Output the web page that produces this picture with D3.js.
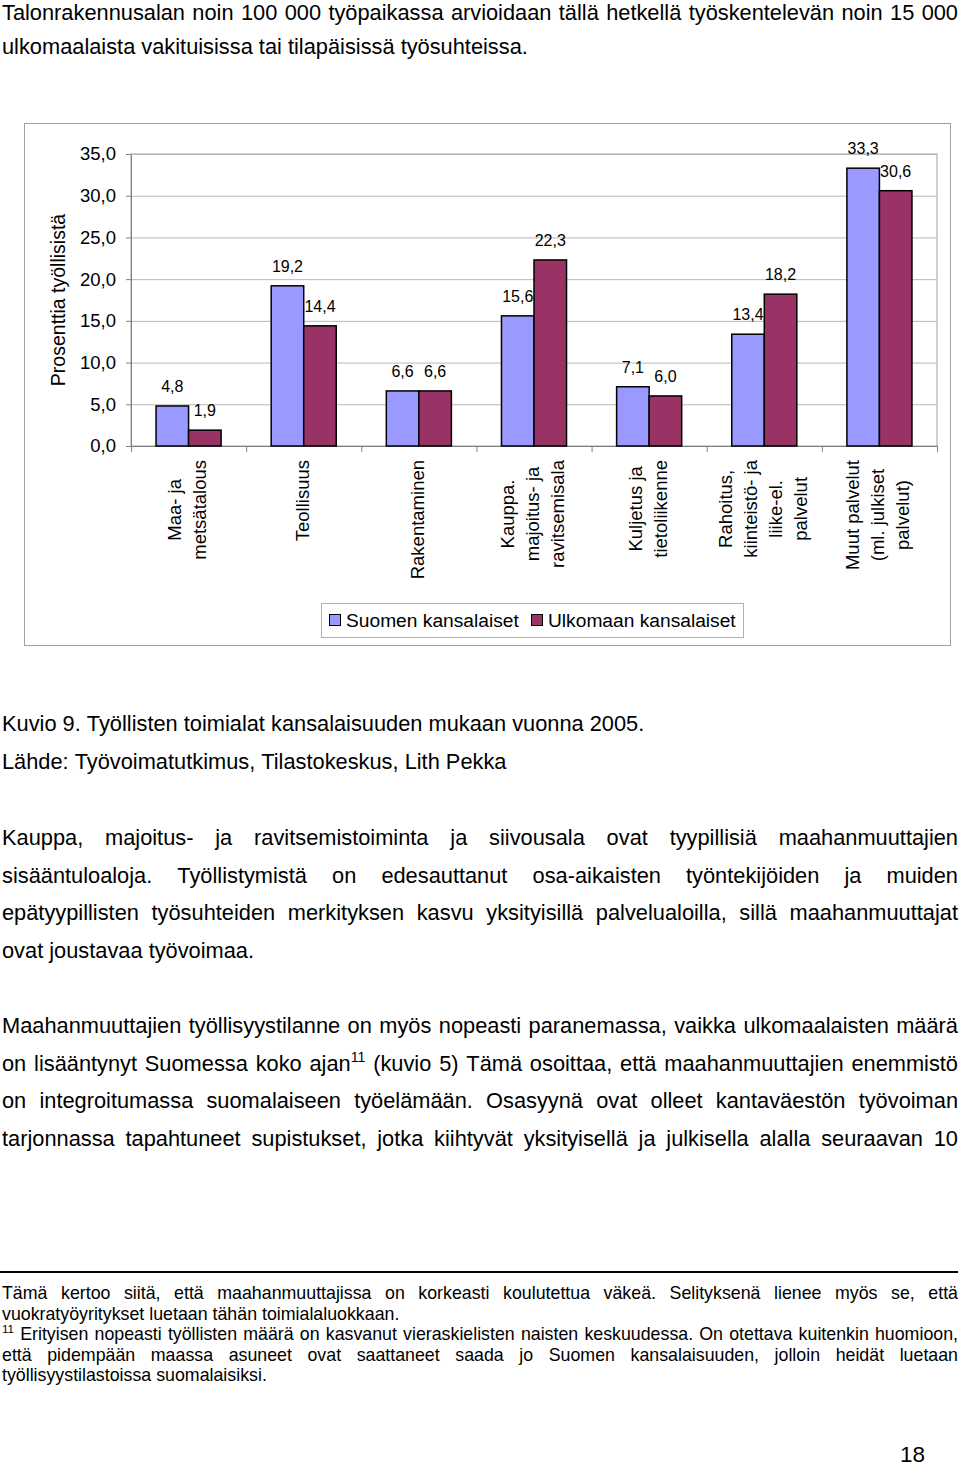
<!DOCTYPE html>
<html>
<head>
<meta charset="utf-8">
<script src="https://cdn.jsdelivr.net/npm/d3@7"></script>
<style>
  body { margin: 0; background: #fff; }
  svg { display: block; font-family: "Liberation Sans", Arial, sans-serif; }
</style>
</head>
<body>
<div id="page"></div>
<script>
const PAGE_W = 960, PAGE_H = 1467;
const PLOT = {left: 131, right: 937, top: 154, bottom: 446};

// chart data
const categories = [
  ["Maa- ja", "metsätalous"],
  ["Teollisuus"],
  ["Rakentaminen"],
  ["Kauppa.", "majoitus- ja", "ravitsemisala"],
  ["Kuljetus ja", "tietoliikenne"],
  ["Rahoitus,", "kiinteistö- ja", "liike-el.", "palvelut"],
  ["Muut palvelut", "(ml. julkiset", "palvelut)"]
];
const suomen = [4.8, 19.2, 6.6, 15.6, 7.1, 13.4, 33.3];
const ulkomaan = [1.9, 14.4, 6.6, 22.3, 6.0, 18.2, 30.6];
const seriesNames = ["Suomen kansalaiset", "Ulkomaan kansalaiset"];
const seriesColors = ["#9999ff", "#993366"];
const yTicks = [0, 5, 10, 15, 20, 25, 30, 35];

// page text
const titleLines = [
  "Talonrakennusalan noin 100 000 työpaikassa arvioidaan tällä hetkellä työskentelevän noin 15 000",
  "ulkomaalaista vakituisissa tai tilapäisissä työsuhteissa."
];
const captionLines = [
  "Kuvio 9. Työllisten toimialat kansalaisuuden mukaan vuonna 2005.",
  "Lähde: Työvoimatutkimus, Tilastokeskus, Lith Pekka"
];
const para1 = [
  "Kauppa, majoitus- ja ravitsemistoiminta ja siivousala ovat tyypillisiä maahanmuuttajien",
  "sisääntuloaloja. Työllistymistä on edesauttanut osa-aikaisten työntekijöiden ja muiden",
  "epätyypillisten työsuhteiden merkityksen kasvu yksityisillä palvelualoilla, sillä maahanmuuttajat",
  "ovat joustavaa työvoimaa."
];
const para2 = [
  "Maahanmuuttajien työllisyystilanne on myös nopeasti paranemassa, vaikka ulkomaalaisten määrä",
  "on lisääntynyt Suomessa koko ajan{11} (kuvio 5) Tämä osoittaa, että maahanmuuttajien enemmistö",
  "on integroitumassa suomalaiseen työelämään. Osasyynä ovat olleet kantaväestön työvoiman",
  "tarjonnassa tapahtuneet supistukset, jotka kiihtyvät yksityisellä ja julkisella alalla seuraavan 10"
];
const footLines = [
  "Tämä kertoo siitä, että maahanmuuttajissa on korkeasti koulutettua väkeä. Selityksenä lienee myös se, että",
  "vuokratyöyritykset luetaan tähän toimialaluokkaan.",
  "{11} Erityisen nopeasti työllisten määrä on kasvanut vieraskielisten naisten keskuudessa. On otettava kuitenkin huomioon,",
  "että pidempään maassa asuneet ovat saattaneet saada jo Suomen kansalaisuuden, jolloin heidät luetaan",
  "työllisyystilastoissa suomalaisiksi."
];

let svg = d3.select("#page")
  .append("svg")
    .attr("width", PAGE_W)
    .attr("height", PAGE_H);

// one line of text, optionally justified between x0 and x1
function textLine(y, str, size, justify, x0 = 2, x1 = 958) {
  let g = svg.append("g");
  let words = str.split(" ");
  let nodes = words.map(w => {
    let t = g.append("text")
      .attr("y", y)
      .attr("font-size", size)
      .attr("fill", "#000");
    let parts = w.split(/(\{\d+\})/).filter(p => p.length);
    let raised = false;
    parts.forEach(p => {
      if (p[0] === "{") {
        t.append("tspan").attr("font-size", size * 0.65).attr("dy", -size * 0.4)
          .text(p.slice(1, -1));
        raised = true;
      } else {
        t.append("tspan").attr("dy", raised ? size * 0.4 : 0).text(p);
        raised = false;
      }
    });
    return t;
  });
  let widths = nodes.map(t => t.node().getComputedTextLength());
  let total = d3.sum(widths);
  let gap = size * 0.278;
  if (justify && nodes.length > 1) gap = (x1 - x0 - total) / (nodes.length - 1);
  let x = x0;
  nodes.forEach((t, i) => {
    t.attr("x", x);
    x += widths[i] + gap;
  });
}

// ---- text blocks ----
const BODY = 21.8;
titleLines.forEach((l, i) => textLine(i == 0 ? 20 : 54, l, BODY, i < titleLines.length - 1));
captionLines.forEach((l, i) => textLine(731 + i * 37.6, l, BODY, false));
para1.forEach((l, i) => textLine(845 + i * 37.6, l, BODY, i < para1.length - 1));
para2.forEach((l, i) => textLine(1033 + i * 37.6, l, BODY, true));

svg.append("line")
  .attr("x1", 0).attr("x2", 958)
  .attr("y1", 1272).attr("y2", 1272)
  .attr("stroke", "#000").attr("stroke-width", 2);

const FOOT = 17.8;
const footJustify = [true, false, true, true, false];
footLines.forEach((l, i) => textLine(1299 + i * 20.6, l, FOOT, footJustify[i]));

svg.append("text")
  .attr("x", 925).attr("y", 1462)
  .attr("text-anchor", "end")
  .attr("font-size", 22.5)
  .text("18");

// ---- chart ----
let chart = svg.append("g");

chart.append("rect")
  .attr("x", 24.5).attr("y", 123.5)
  .attr("width", 926).attr("height", 522)
  .attr("fill", "#fff")
  .attr("stroke", "#a0a0a0");

let y = d3.scaleLinear()
  .domain([0, 35])
  .range([PLOT.bottom, PLOT.top]);

let x = d3.scaleBand()
  .domain(d3.range(categories.length))
  .range([PLOT.left, PLOT.right])
  .paddingInner(0.435)
  .paddingOuter(0.2175);

let xSub = d3.scaleBand()
  .domain([0, 1])
  .range([0, x.bandwidth()]);

let xEdge = d3.scaleLinear()
  .domain([0, categories.length])
  .range([PLOT.left, PLOT.right]);

// plot border
chart.append("rect")
  .attr("x", PLOT.left).attr("y", PLOT.top)
  .attr("width", PLOT.right - PLOT.left)
  .attr("height", PLOT.bottom - PLOT.top)
  .attr("fill", "none")
  .attr("stroke", "#a0a0a0");

// gridlines
chart.append("g")
  .selectAll("line")
  .data(yTicks.slice(1))
  .enter()
  .append("line")
    .attr("x1", PLOT.left).attr("x2", PLOT.right)
    .attr("y1", d => y(d) + 0.5).attr("y2", d => y(d) + 0.5)
    .attr("stroke", "#b8b8b8");

// y axis
let yAxis = chart.append("g")
  .attr("transform", "translate(" + PLOT.left + ",0)")
  .call(d3.axisLeft(y)
    .tickValues(yTicks)
    .tickSizeInner(5).tickSizeOuter(0)
    .tickPadding(10)
    .tickFormat(d => d3.format(".1f")(d).replace(".", ",")));
yAxis.select(".domain").attr("stroke", "#808080");
yAxis.selectAll(".tick line").attr("stroke", "#808080");
yAxis.selectAll(".tick text")
  .attr("font-family", "Liberation Sans, Arial, sans-serif")
  .attr("font-size", 18.5)
  .attr("fill", "#000");

// x axis (ticks between categories)
let xAxis = chart.append("g")
  .attr("transform", "translate(0," + PLOT.bottom + ")")
  .call(d3.axisBottom(xEdge)
    .tickValues(d3.range(categories.length + 1))
    .tickSizeInner(6).tickSizeOuter(0)
    .tickFormat(""));
xAxis.select(".domain").attr("stroke", "#808080");
xAxis.selectAll(".tick line").attr("stroke", "#808080");

// bars
const series = [suomen, ulkomaan];
series.forEach((vals, s) => {
  chart.append("g")
    .selectAll("rect")
    .data(vals)
    .enter()
    .append("rect")
      .attr("x", (d, i) => x(i) + xSub(s))
      .attr("y", d => y(d))
      .attr("width", xSub.bandwidth())
      .attr("height", d => y(0) - y(d))
      .attr("fill", seriesColors[s])
      .attr("stroke", "#000")
      .attr("stroke-width", 1.5);

  chart.append("g")
    .selectAll("text")
    .data(vals)
    .enter()
    .append("text")
      .attr("x", (d, i) => x(i) + xSub(s) + xSub.bandwidth() / 2)
      .attr("y", d => y(d) - 14)
      .attr("text-anchor", "middle")
      .attr("font-size", 16)
      .text(d => d3.format(".1f")(d).replace(".", ","));
});

// category labels, rotated
const LH = 25;
categories.forEach((lines, i) => {
  let cx = x(i) + x.bandwidth() / 2;
  let g = chart.append("g");
  let texts = lines.map((l, k) => g.append("text")
    .attr("font-size", 18.5)
    .attr("text-anchor", "middle")
    .text(l));
  let maxLen = d3.max(texts, t => t.node().getComputedTextLength());
  let cy = 460 + maxLen / 2;
  texts.forEach((t, k) => {
    let bx = cx + (k - (lines.length - 1) / 2) * LH + 5;
    t.attr("transform", "translate(" + bx + "," + cy + ") rotate(-90)");
  });
});

// y title
chart.append("text")
  .attr("transform", "translate(65,300) rotate(-90)")
  .attr("text-anchor", "middle")
  .attr("font-size", 19.5)
  .text("Prosenttia työllisistä");

// legend
let legend = chart.append("g");
legend.append("rect")
  .attr("x", 321.5).attr("y", 603.5)
  .attr("width", 422).attr("height", 34)
  .attr("fill", "#fff")
  .attr("stroke", "#b0b0b0");
const legendX = [329, 531];
seriesNames.forEach((name, s) => {
  legend.append("rect")
    .attr("x", legendX[s] + 0.5).attr("y", 614.5)
    .attr("width", 11).attr("height", 11)
    .attr("fill", seriesColors[s])
    .attr("stroke", "#000");
  legend.append("text")
    .attr("x", legendX[s] + 17).attr("y", 627)
    .attr("font-size", 19.2)
    .text(name);
});
</script>
</body>
</html>
